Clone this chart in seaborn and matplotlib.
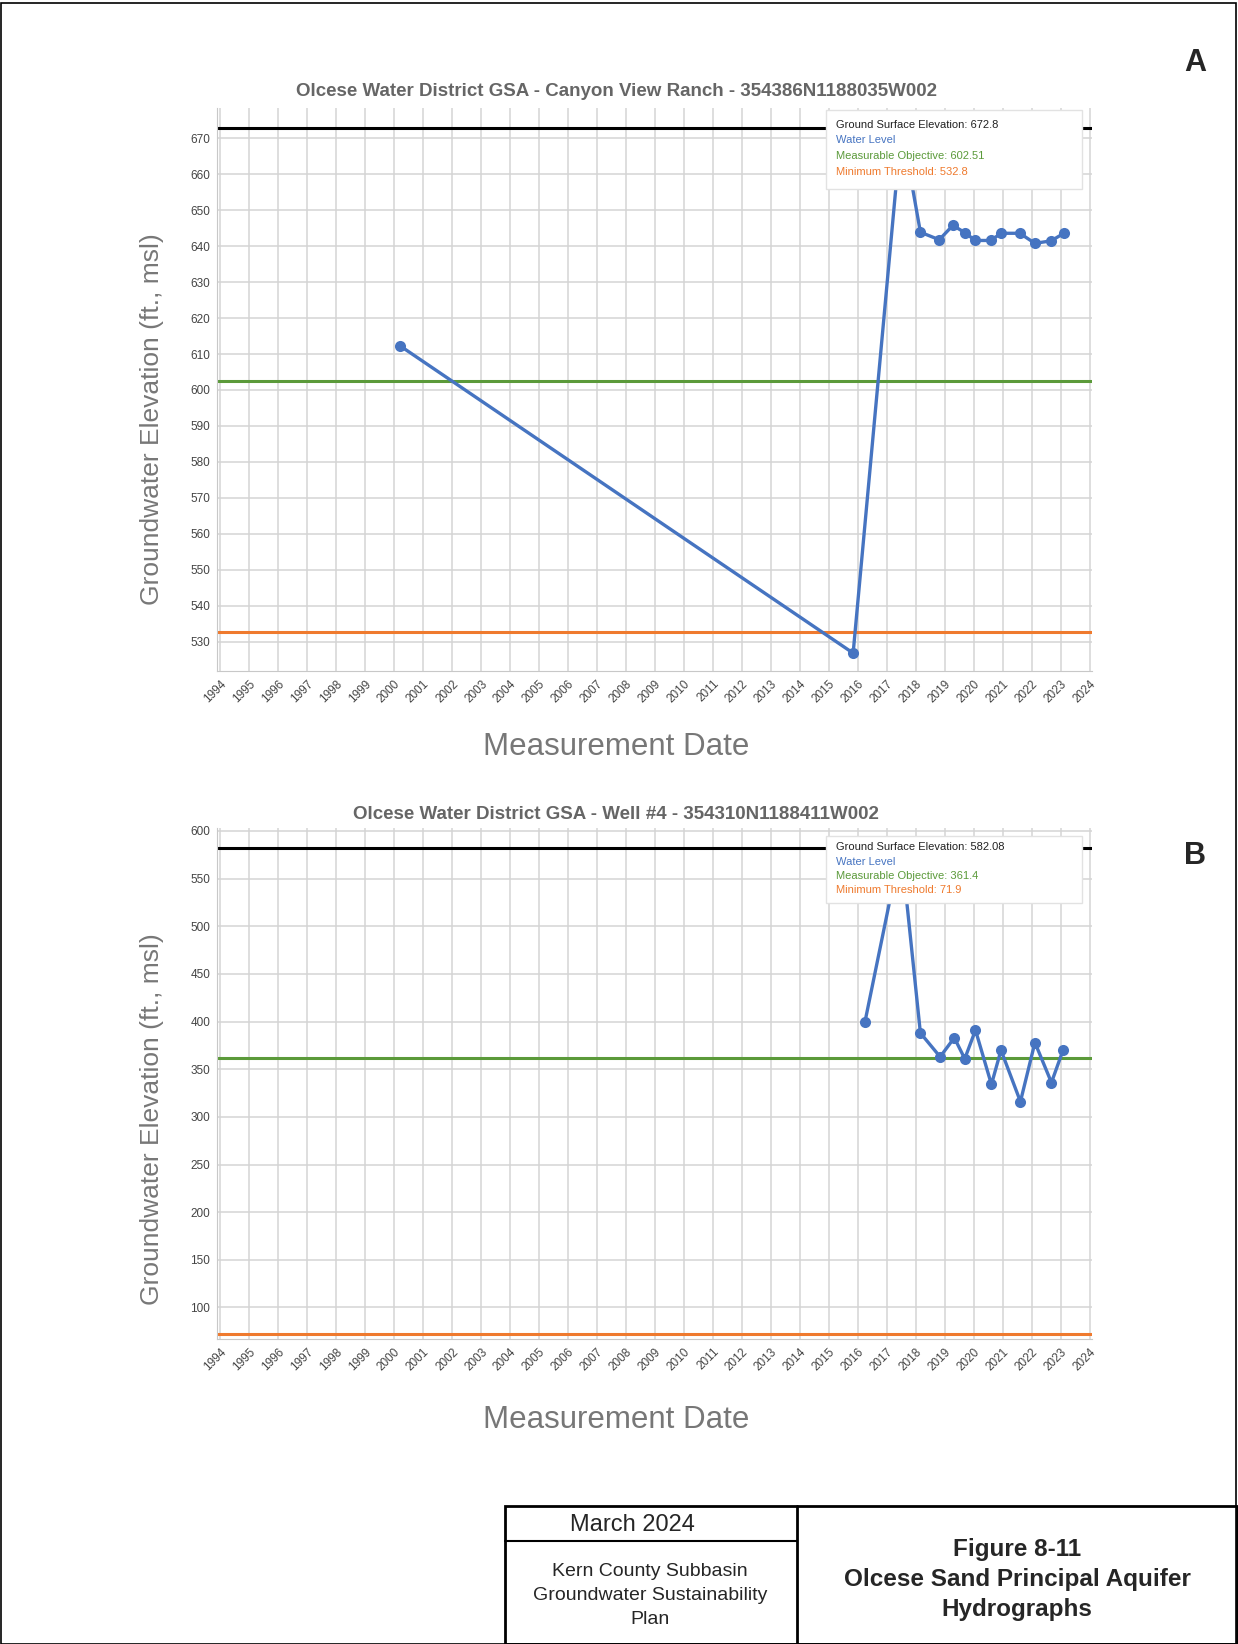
import seaborn as sns
import matplotlib.pyplot as plt
import pandas as pd
from matplotlib.patches import Rectangle

# well A - Canyon View Ranch
years_a = [2000.2, 2015.83, 2017.5, 2018.15, 2018.8, 2019.27, 2019.68, 2020.04,
           2020.58, 2020.93, 2021.58, 2022.1, 2022.66, 2023.1]
level_a = [612.3, 526.8, 673.5, 643.9, 641.8, 645.8, 643.8, 641.6,
           641.6, 643.6, 643.6, 640.8, 641.5, 643.6]
gse_a, mo_a, mt_a = 672.8, 602.51, 532.8

# well B - Well #4
years_b = [2016.24, 2017.48, 2018.15, 2018.83, 2019.32, 2019.68, 2020.05,
           2020.6, 2020.93, 2021.6, 2022.1, 2022.67, 2023.07]
level_b = [400, 584, 388, 363, 383, 361, 391, 334, 370, 316, 378, 336, 370]
gse_b, mo_b, mt_b = 582.08, 361.4, 71.9

year_ticks = list(range(1994, 2025))

BLUE = '#4674c1'
GREEN = '#5b9a3a'
ORANGE = '#ef7a2e'

sns.set_style('whitegrid', {'grid.color': '#d4d4d4', 'axes.edgecolor': '#c8c8c8'})
plt.rcParams['font.family'] = ['Liberation Sans', 'DejaVu Sans']

fig = plt.figure(figsize=(12.38, 16.44), dpi=100)
ax1 = fig.add_axes([0.1753, 0.5918, 0.7068, 0.3425])
ax2 = fig.add_axes([0.1753, 0.1855, 0.7068, 0.3108])


def hydrograph(ax, years, level, gse, mo, mt, ylim, yticks, title, title_y, leg_box, leg_y):
    df = pd.DataFrame({'year': years, 'level': level})
    ax.axhline(gse, color='black', lw=2.2, zorder=2)
    ax.axhline(mo, color=GREEN, lw=2.2, zorder=2)
    ax.axhline(mt, color=ORANGE, lw=2.2, zorder=2)
    sns.lineplot(data=df, x='year', y='level', color=BLUE, lw=2.4,
                 marker='o', markersize=8, markeredgewidth=0, ax=ax, zorder=3)
    ax.set_xlim(1993.89, 2024.07)
    ax.set_ylim(*ylim)
    ax.set_xticks(year_ticks)
    ax.set_xticklabels([str(y) for y in year_ticks], rotation=45, ha='right',
                       rotation_mode='anchor', fontsize=8.5, color='#444')
    ax.set_yticks(yticks)
    ax.set_yticklabels([str(v) for v in yticks], fontsize=8.5, color='#444')
    ax.tick_params(length=0, pad=5)
    ax.grid(True, lw=1.1)
    ax.spines['top'].set_visible(False)
    ax.spines['right'].set_visible(False)
    ax.set_xlabel('')
    ax.set_ylabel('')
    # legend box
    x0, y0, x1, y1 = leg_box
    ax.add_patch(Rectangle((x0, y0), x1 - x0, y1 - y0, transform=ax.transAxes,
                           facecolor='white', edgecolor='#e2e2e2', lw=1, zorder=5))
    labels = [f'Ground Surface Elevation: {gse}', 'Water Level',
              f'Measurable Objective: {mo}', f'Minimum Threshold: {mt}']
    colors = ['#222', BLUE, GREEN, ORANGE]
    for lab, c, ty in zip(labels, colors, leg_y):
        ax.text(x0 + 0.011, ty, lab, transform=ax.transAxes, fontsize=8,
                color=c, va='center', zorder=6)
    fig.text(0.4976, title_y, title, ha='center', va='center', fontsize=13.5,
             fontweight='bold', color='#666')


hydrograph(ax1, years_a, level_a, gse_a, mo_a, mt_a, (521.8, 678.45),
           list(range(530, 671, 10)),
           'Olcese Water District GSA - Canyon View Ranch - 354386N1188035W002',
           1 - 91 / 1644, (0.696, 0.856, 0.989, 0.996),
           [0.970, 0.9425, 0.914, 0.8865])
hydrograph(ax2, years_b, level_b, gse_b, mo_b, mt_b, (66.9, 603),
           list(range(100, 601, 50)),
           'Olcese Water District GSA - Well #4 - 354310N1188411W002',
           1 - 814 / 1644, (0.696, 0.853, 0.989, 0.984),
           [0.963, 0.934, 0.907, 0.879])

for yl, xl in [(1 - 419 / 1644, 1 - 747 / 1644), (1 - 1119 / 1644, 1 - 1420 / 1644)]:
    fig.text(152 / 1238, yl, 'Groundwater Elevation (ft., msl)', rotation=90,
             ha='center', va='center', fontsize=19, color='#777')
    fig.text(616 / 1238, xl, 'Measurement Date', ha='center', va='center',
             fontsize=22.5, color='#777')

fig.text(1195 / 1238, 1 - 63 / 1644, 'A', ha='center', va='center', fontsize=22, fontweight='bold')
fig.text(1195 / 1238, 1 - 856 / 1644, 'B', ha='center', va='center', fontsize=22, fontweight='bold')

# page border
fig.add_artist(Rectangle((0.001, 0.0), 0.997, 0.998, transform=fig.transFigure,
                         fill=False, edgecolor='black', lw=1.2))

# title block
narrow = ['Liberation Sans Narrow', 'Liberation Sans', 'DejaVu Sans']
bx0, bx1, by0, by1 = 505 / 1238, 1.0, 0.0, 1 - 1506 / 1644
div = 797 / 1238
fig.add_artist(Rectangle((bx0, by0), bx1 - bx0 - 0.001, by1 - by0,
                         transform=fig.transFigure, fill=False, edgecolor='black', lw=2))
fig.add_artist(plt.Line2D([div, div], [by0, by1], transform=fig.transFigure, color='black', lw=2))
fig.add_artist(plt.Line2D([bx0, div], [1 - 1541 / 1644] * 2, transform=fig.transFigure,
                          color='black', lw=1.5))
fig.text(632 / 1238, 1 - 1525 / 1644, 'March 2024', ha='center', va='center',
         fontsize=17, family=narrow)
for s, yy in zip(['Kern County Subbasin', 'Groundwater Sustainability', 'Plan'], [1571, 1595, 1619]):
    fig.text(650 / 1238, 1 - yy / 1644, s, ha='center', va='center', fontsize=14, family=narrow)
for s, yy in zip(['Figure 8-11', 'Olcese Sand Principal Aquifer', 'Hydrographs'], [1549, 1579, 1609]):
    fig.text(1017 / 1238, 1 - yy / 1644, s, ha='center', va='center', fontsize=17.5,
             fontweight='bold', family=narrow)

fig.savefig('out.png', dpi=100)
